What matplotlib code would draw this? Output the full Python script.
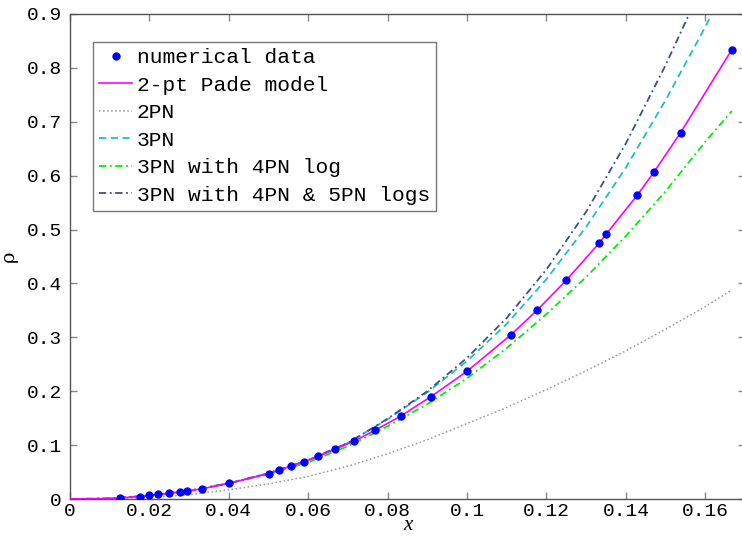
import matplotlib
matplotlib.use("Agg")
import matplotlib.pyplot as plt
from matplotlib.ticker import FuncFormatter

# numerical data (blue dots)
x_num = [0.0125, 0.01754, 0.02, 0.02222, 0.025, 0.02778, 0.02941, 0.03333,
         0.04, 0.05, 0.05263, 0.05556, 0.05882, 0.0625, 0.06667, 0.07143,
         0.07692, 0.08333, 0.09091, 0.1, 0.1111, 0.1176, 0.125, 0.1333,
         0.1351, 0.1429, 0.1471, 0.1538, 0.1667]
rho_num = [0.002, 0.0045, 0.0065, 0.0085, 0.0105, 0.013, 0.0145, 0.019,
           0.029, 0.047, 0.053, 0.061, 0.069, 0.079, 0.092, 0.107,
           0.128, 0.154, 0.190, 0.237, 0.305, 0.350, 0.406, 0.475,
           0.492, 0.564, 0.607, 0.680, 0.834]

# 2-pt Pade model
x_pade = [0, 0.005, 0.01] + x_num
rho_pade = [0, 0.0002, 0.001] + rho_num

# PN curves
x_pn = [0, 0.01, 0.02, 0.03, 0.04, 0.05, 0.06, 0.07, 0.08, 0.09, 0.1,
        0.11, 0.12, 0.13, 0.14, 0.15, 0.16, 0.1667]
rho_2pn = [0, 0.0005, 0.003, 0.008, 0.017, 0.028, 0.042, 0.061, 0.084, 0.110,
           0.140, 0.170, 0.203, 0.238, 0.275, 0.315, 0.357, 0.388]
rho_3pn = [0, 0.001, 0.0065, 0.0155, 0.029, 0.048, 0.072, 0.104, 0.148, 0.198,
           0.256, 0.325, 0.408, 0.505, 0.615, 0.740, 0.876, 0.975]
rho_3pn_4log = [0, 0.001, 0.0065, 0.0155, 0.029, 0.046, 0.068, 0.098, 0.135, 0.176,
                0.224, 0.280, 0.343, 0.412, 0.488, 0.571, 0.663, 0.720]
rho_3pn_45log = [0, 0.001, 0.0065, 0.0155, 0.029, 0.048, 0.072, 0.104, 0.149, 0.200,
                 0.262, 0.336, 0.426, 0.533, 0.660, 0.805, 0.965, 1.07]

fig = plt.figure(figsize=(7.42, 5.36), dpi=100)
ax = fig.add_axes([70/742, 37/536, 675/742, 485/536])

ax.plot(x_num, rho_num, 'o', color='#0000ff', markersize=5, label='numerical data', zorder=6)
ax.plot(x_pade, rho_pade, '-', color='#ff00ff', lw=1.2, label='2-pt Pade model', zorder=5)
ax.plot(x_pn, rho_2pn, ':', color='#999999', lw=1.1, label='2PN')
ax.plot(x_pn, rho_3pn, '--', color='#1fbfbf', lw=1.3, dashes=(4, 2.5), label='3PN')
ax.plot(x_pn, rho_3pn_4log, '-.', color='#00ee00', lw=1.3, dashes=(4, 2, 1, 2), label='3PN with 4PN log')
ax.plot(x_pn, rho_3pn_45log, '-.', color='#3f4f80', lw=1.3, dashes=(4, 2, 1, 2), label='3PN with 4PN & 5PN logs')

ax.set_xlim(0, 0.17)
ax.set_ylim(0, 0.9)
ax.set_xticks([0, 0.02, 0.04, 0.06, 0.08, 0.1, 0.12, 0.14, 0.16])
ax.set_yticks([0, 0.1, 0.2, 0.3, 0.4, 0.5, 0.6, 0.7, 0.8, 0.9])
fmt = FuncFormatter(lambda v, p: '%g' % round(v, 4))
ax.xaxis.set_major_formatter(fmt)
ax.yaxis.set_major_formatter(fmt)

ax.tick_params(direction='in', top=True, right=True, length=5, width=1,
               color='#888888', labelsize=14, pad=6)
ax.tick_params(axis='x', pad=3)
for lab in ax.get_xticklabels() + ax.get_yticklabels():
    lab.set_family('Liberation Mono')
for s in ax.spines.values():
    s.set_color('#555555')
    s.set_linewidth(1)

ax.set_xlabel('x', fontsize=15, family='Liberation Serif', style='italic', va='bottom')
ax.xaxis.set_label_coords(0.5, -36.5/485)
ax.set_ylabel('ρ', fontsize=14, family='DejaVu Serif', labelpad=6)

leg = ax.legend(loc='upper left', bbox_to_anchor=(23/675, 1 - 28/485), borderaxespad=0,
                prop={'family': 'Liberation Mono', 'size': 15.3}, numpoints=1,
                handlelength=1.55, handletextpad=0.2, labelspacing=0.4,
                borderpad=0.3, fancybox=False, framealpha=1, edgecolor='#777777')
leg.get_frame().set_linewidth(1)

fig.savefig('out.png', dpi=100)
